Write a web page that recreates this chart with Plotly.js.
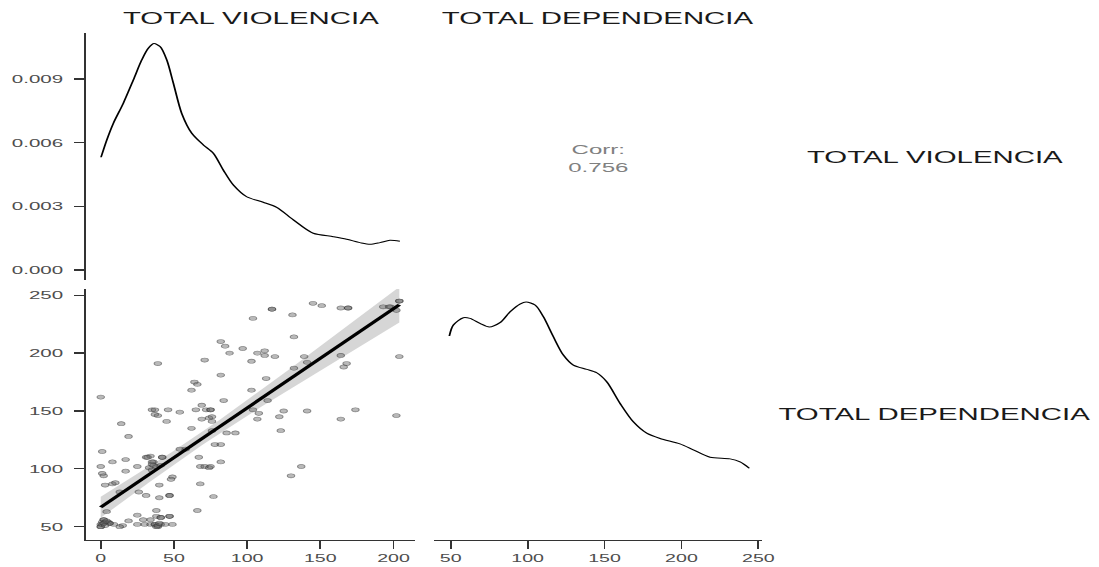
<!DOCTYPE html>
<html>
<head>
<meta charset="utf-8">
<script src="https://cdn.plot.ly/plotly-3.0.1.min.js"></script>
<style>
html, body { margin: 0; padding: 0; background: #ffffff; overflow: hidden; }
#wrap { width: 1099px; height: 567px; overflow: hidden; }
#chart { width: 617px; height: 567px; transform: scaleX(1.78120); transform-origin: 0 0; }
</style>
</head>
<body>
<div id="wrap"><div id="chart"></div></div>
<script>
// ---------- DATA ----------
var varNames = ["TOTAL VIOLENCIA", "TOTAL DEPENDENCIA"];
var corrLabel = "Corr:";
var corrValue = "0.756";

// scatter: TOTAL VIOLENCIA (x) vs TOTAL DEPENDENCIA (y)
var violencia = [
  145,151,117,164,169,193,198,204,202,131,104,132,82,85,97,88,112,107,112,119,
  204,39,71,103,139,141,164,168,166,132,82,113,64,66,62,103,0,84,114,69,
  35,37,46,54,65,72,75,75,37,39,69,74,76,45,104,108,107,122,125,141,
  174,164,202,123,14,19,62,76,76,78,82,86,92,54,58,1,8,17,25,31,
  34,36,33,38,41,35,42,67,68,71,74,75,82,0,17,1,2,3,8,10,
  13,26,31,40,49,48,40,47,47,77,68,137,130,66,4,25,38,38,41,41,
  47,47,34,29,30,25,19,15,13,9,5,2,2,1,0,0,34,37,37,39,
  41,49,6,6,3,32,42,35,36,35,
  0,1,2,3,4,38,39,44,40,117,169,204,197
];
var dependencia = [
  243,241,238,239,239,240,240,245,237,233,230,214,210,206,204,200,202,200,198,197,
  197,191,194,193,197,192,198,191,188,187,181,178,175,173,168,168,162,159,159,155,
  151,151,151,149,151,151,151,151,147,146,143,144,145,141,151,148,143,145,150,150,
  151,143,146,133,139,128,135,141,133,121,121,131,131,117,117,115,106,108,102,110,
  111,106,101,102,103,99,110,110,102,102,101,102,106,102,98,96,94,86,87,88,
  80,80,77,86,93,91,75,77,77,76,87,102,94,64,63,60,64,59,58,58,
  59,59,56,56,52,52,55,51,50,52,54,56,56,54,52,50,52,52,52,50,
  52,52,53,53,54,110,110,104,103,106,
  50,52,53,51,55,50,51,52,53,238,239,245,240
];

// kernel density curve of TOTAL VIOLENCIA
var violenciaDensX = [0.2,4.1,8.6,15.4,22.3,28,32.5,36.4,40.5,45.1,49.6,55.3,62.2,70.1,76.9,83.7,90.6,99.7,111,120.2,131.6,145.2,158.9,168,177.1,184,190.8,197.6,204.4];
var violenciaDensY = [0.00531,0.00612,0.00691,0.00785,0.00895,0.00989,0.01044,0.01066,0.01052,0.00989,0.0088,0.00738,0.00644,0.00589,0.0055,0.00471,0.004,0.00345,0.00319,0.00295,0.00236,0.00173,0.00157,0.00145,0.00129,0.00121,0.00129,0.0014,0.00135];

// kernel density curve of TOTAL DEPENDENCIA
var dependenciaDensX = [49.1,51.7,58.2,62.5,69,75.1,82,88.6,95,99,104.8,110.2,116.7,123.2,129.7,138.4,144.9,151.4,160.1,168.7,177.4,186.1,199,207.7,218.6,231.6,238.1,244.1];
var dependenciaDensY = [0.00577,0.0061,0.00632,0.0063,0.00615,0.00604,0.00617,0.0065,0.00673,0.00679,0.0067,0.00635,0.00575,0.0052,0.0049,0.00477,0.00467,0.0044,0.00375,0.0032,0.00286,0.0027,0.00254,0.00236,0.00214,0.00209,0.002,0.00181];

var tickX1 = [0, 50, 100, 150, 200];
var tickX2 = [50, 100, 150, 200, 250];
var tickY2 = [50, 100, 150, 200, 250];
var tickYd = [0, 0.003, 0.006, 0.009];
var tickYdText = ["0.000", "0.003", "0.006", "0.009"];

// ---------- linear fit with 95% band (geom_smooth(method = "lm")) ----------
function linearFit(xs, ys) {
  var n = xs.length, sx = 0, sy = 0;
  for (var i = 0; i < n; i++) { sx += xs[i]; sy += ys[i]; }
  var xb = sx / n, yb = sy / n, sxx = 0, sxy = 0;
  for (var j = 0; j < n; j++) { sxx += (xs[j]-xb)*(xs[j]-xb); sxy += (xs[j]-xb)*(ys[j]-yb); }
  var b = sxy / sxx, a = yb - b * xb, sse = 0;
  for (var k = 0; k < n; k++) { var r = ys[k] - (a + b*xs[k]); sse += r*r; }
  var s = Math.sqrt(sse / (n - 2));
  var xmin = Math.min.apply(null, xs), xmax = Math.max.apply(null, xs);
  var gx = [], gy = [], lo = [], hi = [];
  var steps = 80, t = 1.976;
  for (var m = 0; m <= steps; m++) {
    var x = xmin + (xmax - xmin) * m / steps;
    var yhat = a + b * x;
    var se = s * Math.sqrt(1/n + (x-xb)*(x-xb)/sxx);
    gx.push(x); gy.push(yhat); lo.push(yhat - t*se); hi.push(yhat + t*se);
  }
  return {x: gx, y: gy, lo: lo, hi: hi};
}
var fit = linearFit(violencia, dependencia);

// ---------- traces ----------
var FONT = "Liberation Sans, Arial, Helvetica, sans-serif";
var traces = [
  {
    type: "scatter", mode: "lines", x: violenciaDensX, y: violenciaDensY,
    xaxis: "x3", yaxis: "y", line: {color: "#000000", width: 1, shape: "spline", smoothing: 0.8},
    hoverinfo: "skip"
  },
  {
    type: "scatter", mode: "lines",
    x: fit.x.concat(fit.x.slice().reverse()),
    y: fit.hi.concat(fit.lo.slice().reverse()),
    xaxis: "x", yaxis: "y2", fill: "toself", fillcolor: "rgba(153,153,153,0.4)",
    line: {width: 0}, hoverinfo: "skip"
  },
  {
    type: "scatter", mode: "markers", x: violencia, y: dependencia,
    xaxis: "x", yaxis: "y2",
    marker: {size: 4.2, color: "rgba(100,100,100,0.45)", line: {color: "rgba(50,50,50,0.5)", width: 0.6}}
  },
  {
    type: "scatter", mode: "lines", x: fit.x, y: fit.y,
    xaxis: "x", yaxis: "y2", line: {color: "#000000", width: 2.6}, hoverinfo: "skip"
  },
  {
    type: "scatter", mode: "lines", x: dependenciaDensX, y: dependenciaDensY,
    xaxis: "x2", yaxis: "y3", line: {color: "#000000", width: 1, shape: "spline", smoothing: 0.8},
    hoverinfo: "skip"
  }
];

var col1 = [0.0783, 0.3776], col2 = [0.3949, 0.6934];
var row1 = [0.5062, 0.9418], row2 = [0.0476, 0.4903];
var tickFont = {family: FONT, size: 11, color: "#4d4d4d"};
var yTickFont = {family: FONT, size: 11.5, color: "#4d4d4d"};

function xAx(dom, anchor, range, vals) {
  return {domain: dom, anchor: anchor, range: range, tickmode: "array", tickvals: vals,
    showline: true, linecolor: "#333333", linewidth: 1, ticks: "outside", ticklen: 8,
    tickcolor: "#333333", tickwidth: 1, showgrid: false, zeroline: false,
    tickfont: tickFont, ticklabelstandoff: 0, fixedrange: true};
}
function yAx(dom, anchor, range, vals, text) {
  var a = {domain: dom, anchor: anchor, range: range, tickmode: "array", tickvals: vals,
    showline: true, linecolor: "#333333", linewidth: 1, ticks: "outside", ticklen: 5.6,
    tickcolor: "#333333", tickwidth: 1.3, showgrid: false, zeroline: false,
    tickfont: yTickFont, ticklabelstandoff: 4, fixedrange: true};
  if (text) a.ticktext = text;
  return a;
}

function ann(text, x, y, size, color) {
  return {text: text, x: x, y: y, xref: "paper", yref: "paper", showarrow: false,
    xanchor: "center", yanchor: "middle", font: {family: FONT, size: size, color: color}};
}

var layout = {
  width: 617, height: 567,
  margin: {l: 0, r: 0, t: 0, b: 0, pad: 0},
  paper_bgcolor: "#ffffff", plot_bgcolor: "rgba(0,0,0,0)",
  showlegend: false,
  font: {family: FONT},
  xaxis: xAx(col1, "y2", [-10.04, 214.7], tickX1),
  xaxis2: xAx(col2, "y3", [39.1, 252.4], tickX2),
  xaxis3: {domain: col1, anchor: "y", range: [-10.04, 214.7], visible: false, fixedrange: true},
  yaxis: yAx(row1, "x3", [-0.00047, 0.01116], tickYd, tickYdText),
  yaxis2: yAx(row2, "x", [38.5, 255.4], tickY2),
  yaxis3: {domain: row2, anchor: "x2", range: [-0.000342, 0.00718], visible: false, fixedrange: true},
  annotations: [
    ann(varNames[0], (col1[0]+col1[1])/2, 1 - 18/567, 16.5, "#1a1a1a"),
    ann(varNames[1], (col2[0]+col2[1])/2, 1 - 18/567, 16.5, "#1a1a1a"),
    ann(varNames[0], 935/1099, 1 - 157/567, 16.5, "#1a1a1a"),
    ann(varNames[1], 935/1099, 1 - 414/567, 16.5, "#1a1a1a"),
    ann(corrLabel + "<br>" + corrValue, (col2[0]+col2[1])/2, 1 - 158/567, 13.5, "#808080")
  ]
};

Plotly.newPlot("chart", traces, layout, {displayModeBar: false, staticPlot: true});
</script>
</body>
</html>
